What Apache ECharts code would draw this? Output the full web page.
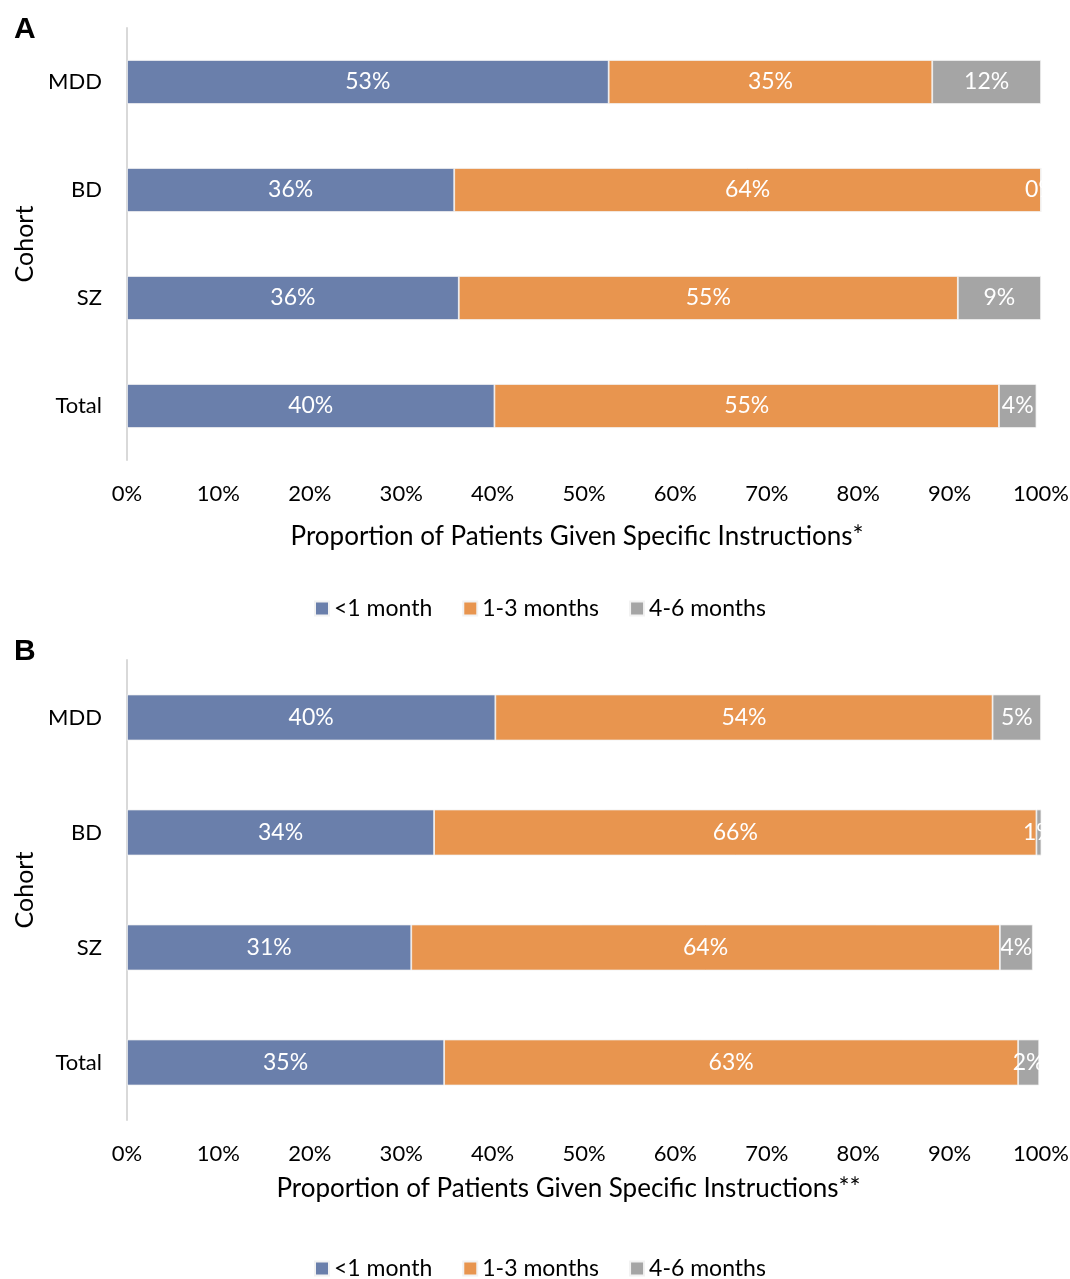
<!DOCTYPE html>
<html>
<head>
<meta charset="utf-8">
<script src="https://cdn.jsdelivr.net/npm/echarts@6/dist/echarts.min.js"></script>
<style>
html,body{margin:0;padding:0;background:#fff;}
#chart{width:1070px;height:1279px;}
</style>
</head>
<body>
<div id="chart"></div>
<script>
const categories = ['MDD', 'BD', 'SZ', 'Total'];
const seriesNames = ['<1 month', '1-3 months', '4-6 months'];
const xTicks = [0, 10, 20, 30, 40, 50, 60, 70, 80, 90, 100];

// Panel A values (%)
const aLess1 = [52.7, 35.8, 36.3, 40.2];
const a1to3 = [35.4, 64.2, 54.6, 55.2];
const a4to6 = [11.9, 0, 9.1, 4.1];

// Panel B values (%)
const bLess1 = [40.3, 33.6, 31.1, 34.7];
const b1to3 = [54.4, 65.9, 64.4, 62.8];
const b4to6 = [5.3, 0.6, 3.6, 2.3];

const colors = ['#6a7fab', '#e8954f', '#a5a5a5'];
const FONT = 'Lato';

const chart = echarts.init(document.getElementById('chart'));

function xAxis(gridIndex, name, gap, shift) {
  return {
    type: 'value', gridIndex: gridIndex, min: xTicks[0], max: xTicks[xTicks.length - 1], interval: 10,
    axisLine: {show: false}, axisTick: {show: false}, splitLine: {show: false},
    axisLabel: {formatter: v => v + '%', color: '#000', fontSize: 22, fontFamily: FONT, margin: 23},
    name: name, nameLocation: 'middle', nameGap: gap,
    nameTextStyle: {color: '#000', fontSize: 26, fontFamily: FONT, padding: [0, shift, 0, 0]}
  };
}
function yAxis(gridIndex) {
  return {
    type: 'category', gridIndex: gridIndex, data: categories, inverse: true,
    axisLine: {show: true, lineStyle: {color: '#d9d9d9', width: 2}},
    axisTick: {show: false},
    axisLabel: {color: '#000', fontSize: 22, fontFamily: FONT, margin: 25},
    name: 'Cohort', nameLocation: 'middle', nameGap: 90, nameRotate: 90,
    nameTextStyle: {color: '#000', fontSize: 25, fontFamily: FONT}
  };
}
function bar(name, data, idx, axisIdx, stack, bw) {
  return {
    type: 'bar', name: name, data: data, stack: stack,
    xAxisIndex: axisIdx, yAxisIndex: axisIdx, barWidth: bw,
    itemStyle: {color: colors[idx], borderColor: '#f2f2f2', borderWidth: 0.8},
    label: {show: true, position: 'inside', color: '#fff', fontSize: 23, fontFamily: FONT,
      formatter: p => Math.round(p.value) + '%'},
    emphasis: {disabled: true},
    animation: false
  };
}
function legend(top) {
  return {
    data: seriesNames, top: top, left: 309, itemWidth: 14, itemHeight: 14, itemGap: 30,
    icon: 'rect', textStyle: {color: '#000', fontSize: 23, fontFamily: FONT}
  };
}

chart.setOption({
  animation: false,
  color: colors,
  title: [
    {text: 'A', left: 9, top: 10, textStyle: {fontFamily: 'Liberation Sans', fontWeight: 'bold', fontSize: 30, color: '#000'}},
    {text: 'B', left: 9, top: 632, textStyle: {fontFamily: 'Liberation Sans', fontWeight: 'bold', fontSize: 30, color: '#000'}}
  ],
  legend: [legend(592), legend(1252)],
  grid: [
    {left: 127, right: 29, top: 28, height: 432, outerBoundsMode: 'none', containLabel: false},
    {left: 127, right: 29, top: 660, height: 460, outerBoundsMode: 'none', containLabel: false}
  ],
  xAxis: [xAxis(0, 'Proportion of Patients Given Specific Instructions*', 64, 14),
          xAxis(1, 'Proportion of Patients Given Specific Instructions**', 56, 31)],
  yAxis: [yAxis(0), yAxis(1)],
  series: [
    bar(seriesNames[0], aLess1, 0, 0, 'a', 44),
    bar(seriesNames[1], a1to3, 1, 0, 'a', 44),
    bar(seriesNames[2], a4to6, 2, 0, 'a', 44),
    bar(seriesNames[0], bLess1, 0, 1, 'b', 46),
    bar(seriesNames[1], b1to3, 1, 1, 'b', 46),
    bar(seriesNames[2], b4to6, 2, 1, 'b', 46)
  ]
});
</script>
</body>
</html>
